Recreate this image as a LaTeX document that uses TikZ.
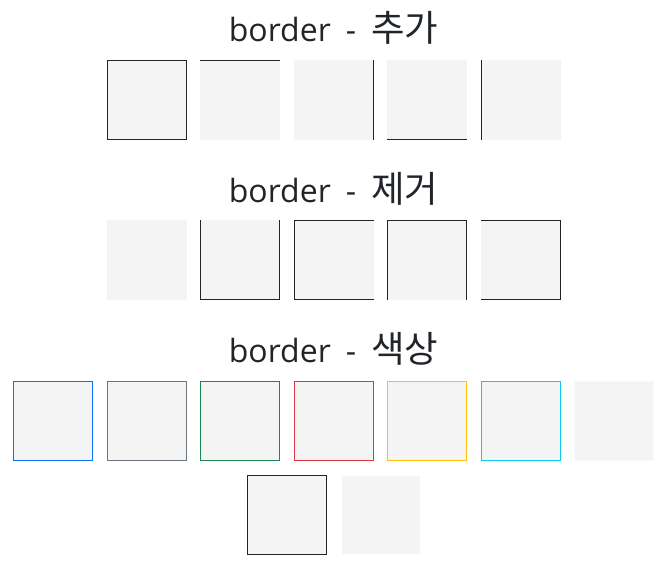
\documentclass[tikz,border=0pt]{standalone}
\usepackage{fontspec}
\setmainfont{Open Sans}[WordSpace=1.8]
\newfontfamily\kofont{Noto Sans CJK KR}[Scale=1.14]
\usepackage{xcolor}
\definecolor{bgray}{HTML}{F4F4F4}
\definecolor{bdark}{HTML}{212529}
\definecolor{bprimary}{HTML}{0D6EFD}
\definecolor{bsecondary}{HTML}{6C757D}
\definecolor{bsuccess}{HTML}{198754}
\definecolor{bdanger}{HTML}{DC3545}
\definecolor{bwarning}{HTML}{FFC107}
\definecolor{binfo}{HTML}{0DCAF0}
\definecolor{blight}{HTML}{F8F9FA}
\definecolor{bwhite}{HTML}{FFFFFF}

\begin{document}
\begin{tikzpicture}[x=1pt, y=-1pt,
    box/.style={fill=bgray, minimum size=80pt, inner sep=0pt, outer sep=0pt},
    fullbox/.style={fill=bgray, draw=#1, line width=1pt, minimum size=79pt,
                    inner sep=0pt, outer sep=0pt},
    edge/.style={draw=bdark, line width=1pt, line cap=rect, miter limit=10},
    title/.style={anchor=base, text=bdark, inner sep=0pt, font=\fontsize{32}{38}\selectfont}]
    \useasboundingbox (0,0) rectangle (672,567);
    % border - add
    \node[title] (t1) at (333.5,42) {border - {\kofont 추가}};
    \node[fullbox=bdark] (a1) at (146.5,100) {};
    \node[box] (a2) at (240,100) {};
    \node[box] (a3) at (333.5,100) {};
    \node[box] (a4) at (427,100) {};
    \node[box] (a5) at (520.5,100) {};
    \draw[edge] ([shift={(0.5pt,-0.5pt)}]a2.north west) -- ([shift={(-0.5pt,-0.5pt)}]a2.north east);
    \draw[edge] ([shift={(-0.5pt,-0.5pt)}]a3.north east) -- ([shift={(-0.5pt,0.5pt)}]a3.south east);
    \draw[edge] ([shift={(0.5pt,0.5pt)}]a4.south west) -- ([shift={(-0.5pt,0.5pt)}]a4.south east);
    \draw[edge] ([shift={(0.5pt,-0.5pt)}]a5.north west) -- ([shift={(0.5pt,0.5pt)}]a5.south west);
    % border - remove
    \node[title] (t2) at (333.5,202) {border - {\kofont 제거}};
    \node[box] (r1) at (146.5,260) {};
    \node[box] (r2) at (240,260) {};
    \node[box] (r3) at (333.5,260) {};
    \node[box] (r4) at (427,260) {};
    \node[box] (r5) at (520.5,260) {};
    \draw[edge] ([shift={(0.5pt,-0.5pt)}]r2.north west) |- ([shift={(-0.5pt,0.5pt)}]r2.south east)
                -- ([shift={(-0.5pt,-0.5pt)}]r2.north east);
    \draw[edge] ([shift={(-0.5pt,-0.5pt)}]r3.north east) -| ([shift={(0.5pt,0.5pt)}]r3.south west)
                -- ([shift={(-0.5pt,0.5pt)}]r3.south east);
    \draw[edge] ([shift={(0.5pt,0.5pt)}]r4.south west) |- ([shift={(-0.5pt,-0.5pt)}]r4.north east)
                -- ([shift={(-0.5pt,0.5pt)}]r4.south east);
    \draw[edge] ([shift={(0.5pt,-0.5pt)}]r5.north west) -| ([shift={(-0.5pt,0.5pt)}]r5.south east)
                -- ([shift={(0.5pt,0.5pt)}]r5.south west);
    % border - color
    \node[title] (t3) at (333.5,362) {border - {\kofont 색상}};
    \node[fullbox=bprimary]   (c1) at (53,421) {};
    \node[fullbox=bsecondary] (c2) at (146.5,421) {};
    \node[fullbox=bsuccess]   (c3) at (240,421) {};
    \node[fullbox=bdanger]    (c4) at (333.5,421) {};
    \node[fullbox=bwarning]   (c5) at (427,421) {};
    \node[fullbox=binfo]      (c6) at (520.5,421) {};
    \node[fullbox=blight]     (c7) at (614,421) {};
    \node[fullbox=bdark]      (c8) at (287,515) {};
    \node[fullbox=bwhite]     (c9) at (380.5,515) {};
\end{tikzpicture}
\end{document}
